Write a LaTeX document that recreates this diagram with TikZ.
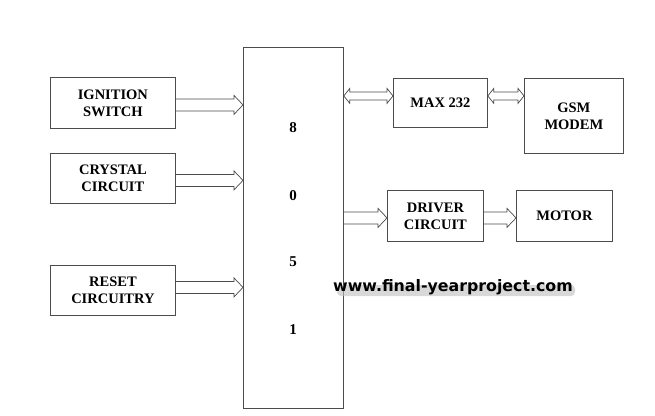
\documentclass[tikz,border=0pt]{standalone}
\usepackage{fontspec}
\setmainfont{Liberation Serif}
\newfontfamily\wmfont{DejaVu Sans}
\usetikzlibrary{calc}
\tikzset{
  box/.style={draw=black!70, line width=0.8pt, anchor=north west, align=center,
    font=\fontsize{14.5}{17}\selectfont\bfseries, inner sep=0pt},
  digit/.style={font=\fontsize{15}{17}\selectfont\bfseries},
  conn/.style={draw=black!70, line width=0.7pt},
  barrow/.style={conn, to path={let \p1=(\tikztostart), \p2=(\tikztotarget) in
    (\x1,\y1+6pt) -- (\x2-9pt,\y1+6pt) -- (\x2-9pt,\y1+9.5pt) -- (\x2,\y1)
    -- (\x2-9pt,\y1-9.5pt) -- (\x2-9pt,\y1-6pt) -- (\x1,\y1-6pt)}},
  dbarrow/.style={conn, to path={let \p1=(\tikztostart), \p2=(\tikztotarget) in
    (\x1,\y1) -- (\x1+6pt,\y1+7.5pt) -- (\x1+6pt,\y1+4pt) -- (\x2-6pt,\y1+4pt)
    -- (\x2-6pt,\y1+7.5pt) -- (\x2,\y1) -- (\x2-6pt,\y1-7.5pt) -- (\x2-6pt,\y1-4pt)
    -- (\x1+6pt,\y1-4pt) -- (\x1+6pt,\y1-7.5pt) -- cycle}},
}
\begin{document}
\begin{tikzpicture}[x=1pt,y=-1pt]
\path[use as bounding box, fill=white] (0,0) rectangle (655,415);
% main controller
\node[box, minimum width=100pt, minimum height=361pt] (main) at (243,47) {};
\node[digit] (d8) at (293,128) {8};
\node[digit] (d0) at (293,196) {0};
\node[digit] (d5) at (293,262) {5};
\node[digit] (d1) at (293,330) {1};
% inputs
\node[box, minimum width=125pt, minimum height=51pt] (ign) at (50,77) {IGNITION\\SWITCH};
\node[box, minimum width=125pt, minimum height=50pt] (cry) at (50,153) {CRYSTAL\\CIRCUIT};
\node[box, minimum width=125pt, minimum height=50pt] (rst) at (50,265) {RESET\\CIRCUITRY};
% outputs
\node[box, minimum width=94pt, minimum height=49pt] (max) at (393,78) {MAX 232};
\node[box, minimum width=99pt, minimum height=75pt] (gsm) at (524,78) {GSM\\MODEM};
\node[box, minimum width=96pt, minimum height=51pt] (drv) at (387,190) {DRIVER\\CIRCUIT};
\node[box, minimum width=96pt, minimum height=51pt] (mot) at (516,190) {MOTOR};
% connectors
\draw[barrow] ([yshift=-2pt]ign.east) to ([yshift=-2pt]ign.east -| main.west);
\draw[barrow] ([yshift=-2pt]cry.east) to ([yshift=-2pt]cry.east -| main.west);
\draw[barrow] ([yshift=3pt]rst.east) to ([yshift=3pt]rst.east -| main.west);
\coordinate (m1) at ([yshift=7pt]max.west);
\draw[dbarrow] (m1 -| main.east) to (m1);
\draw[dbarrow] (m1 -| max.east) to (m1 -| gsm.west);
\coordinate (m2) at ([yshift=-2pt]drv.west);
\draw[barrow] (m2 -| main.east) to (m2);
\draw[barrow] (m2 -| drv.east) to (m2 -| mot.west);
% watermark (soft shadow + text)
\fill[black!25, opacity=0.6, rounded corners=4pt] (337,285) rectangle (575,296);
\node[font=\wmfont\bfseries\fontsize{15.8}{17}\selectfont, anchor=west, inner sep=0pt] (wm) at (333,287)
  {www.final-yearproject.com};
\end{tikzpicture}
\end{document}
